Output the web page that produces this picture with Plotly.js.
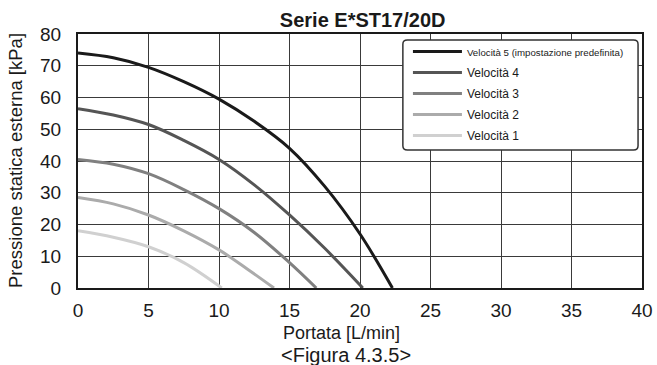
<!DOCTYPE html>
<html>
<head>
<meta charset="utf-8">
<script src="https://cdn.plot.ly/plotly-3.0.1.min.js"></script>
<style>html,body{margin:0;padding:0;background:#fff;}#chart{width:657px;height:365px;}</style>
</head>
<body>
<div id="chart"></div>
<script>
// Data
const seriesNames = [
  '<span style="font-size:9.7px">Velocità 5 (impostazione predefinita)</span>',
  'Velocità 4', 'Velocità 3', 'Velocità 2', 'Velocità 1'
];
const flow5 = [0, 2.5, 5, 7.5, 10, 12.5, 15, 17.5, 20, 22.3];
const press5 = [74, 72.5, 69.5, 65, 59.5, 52.5, 44, 32, 17, 0];
const flow4 = [0, 2.5, 5, 7.5, 10, 12.5, 15, 17.5, 20.2];
const press4 = [56.5, 54.5, 51.5, 46.5, 40.5, 32.5, 23, 12.5, 0];
const flow3 = [0, 2.5, 5, 7.5, 10, 12.5, 15, 16.9];
const press3 = [40.5, 39, 36, 31, 25, 17.5, 8, 0];
const flow2 = [0, 2.5, 5, 7.5, 10, 12, 13.9];
const press2 = [28.5, 26.5, 23, 18, 12, 6, 0];
const flow1 = [0, 2.5, 5, 7.5, 10.2];
const press1 = [18, 16, 13, 8, 0];
const xTicks = [0, 5, 10, 15, 20, 25, 30, 35, 40];
const yTicks = [0, 10, 20, 30, 40, 50, 60, 70, 80];
const chartTitle = 'Serie E*ST17/20D';
const xTitle = 'Portata [L/min]';
const figCaption = '<Figura 4.3.5>';
const yTitle = 'Pressione statica esterna [kPa]';

const colors = ['#1a1a1a', '#555555', '#808080', '#ababab', '#d0d0d0'];
const xs = [flow5, flow4, flow3, flow2, flow1];
const ys = [press5, press4, press3, press2, press1];

const traces = xs.map((x, i) => ({
  x: x, y: ys[i], name: seriesNames[i], type: 'scatter', mode: 'lines',
  legendgroup: 'g' + i,
  line: {color: colors[i], width: 3, shape: 'spline', smoothing: 1},
  hoverinfo: 'skip'
}));

const fam = 'Liberation Sans, Arial, sans-serif';
const ink = '#1a1a1a';

const layout = {
  width: 657, height: 365,
  margin: {l: 78, r: 15, t: 34, b: 77},
  paper_bgcolor: '#ffffff', plot_bgcolor: '#ffffff',
  font: {family: fam, color: ink},
  showlegend: true,
  title: {text: '<b>' + chartTitle + '</b>', xref: 'container', yref: 'container',
          x: 0.552, xanchor: 'center', y: 0.945, yanchor: 'middle',
          font: {family: fam, size: 20, color: ink}},
  xaxis: {
    range: [0, 40], tickvals: xTicks, ticktext: xTicks.map(String),
    showgrid: true, gridcolor: '#3a3a3a', gridwidth: 1,
    showline: true, linecolor: ink, linewidth: 2, mirror: true,
    zeroline: false, ticks: '', ticklabelstandoff: 4,
    tickfont: {family: fam, size: 19, color: ink},
    fixedrange: true
  },
  yaxis: {
    range: [0, 80], tickvals: yTicks, ticktext: yTicks.map(String),
    showgrid: true, gridcolor: '#3a3a3a', gridwidth: 1,
    showline: true, linecolor: ink, linewidth: 2, mirror: true,
    zeroline: false, ticks: '', ticklabelstandoff: 11,
    tickfont: {family: fam, size: 19, color: ink},
    fixedrange: true
  },
  legend: {
    x: 0.585, y: 0.988, xanchor: 'left', yanchor: 'top',
    bgcolor: 'rgba(0,0,0,0)', borderwidth: 0,
    font: {family: fam, size: 12, color: ink},
    traceorder: 'grouped', tracegroupgap: 2, itemwidth: 49
  },
  annotations: [
    {text: xTitle, xref: 'paper', yref: 'paper', x: 0.468, y: -0.177, xanchor: 'center', yanchor: 'middle',
     showarrow: false, font: {family: fam, size: 18, color: ink}},
    {text: figCaption.replace('<', '&lt;').replace('>', '&gt;'), xref: 'paper', yref: 'paper', x: 0.475, y: -0.262,
     xanchor: 'center', yanchor: 'middle', showarrow: false, font: {family: fam, size: 20, color: ink}},
    {text: yTitle, xref: 'paper', yref: 'paper', x: -0.1117, y: 0.5, xanchor: 'center', yanchor: 'middle',
     textangle: -90, showarrow: false, font: {family: fam, size: 18.5, color: ink}}
  ],
  shapes: [{
    type: 'path', xref: 'paper', yref: 'paper', layer: 'above',
    path: 'M 0.584 0.976 L 0.985 0.976 Q 0.993 0.976 0.993 0.96 L 0.993 0.56 Q 0.993 0.543 0.985 0.543 L 0.584 0.543 Q 0.576 0.543 0.576 0.56 L 0.576 0.96 Q 0.576 0.976 0.584 0.976 Z',
    fillcolor: '#ffffff', line: {color: '#333333', width: 1.5}
  }]
};

Plotly.newPlot('chart', traces, layout, {displayModeBar: false, staticPlot: true});
</script>
</body>
</html>
